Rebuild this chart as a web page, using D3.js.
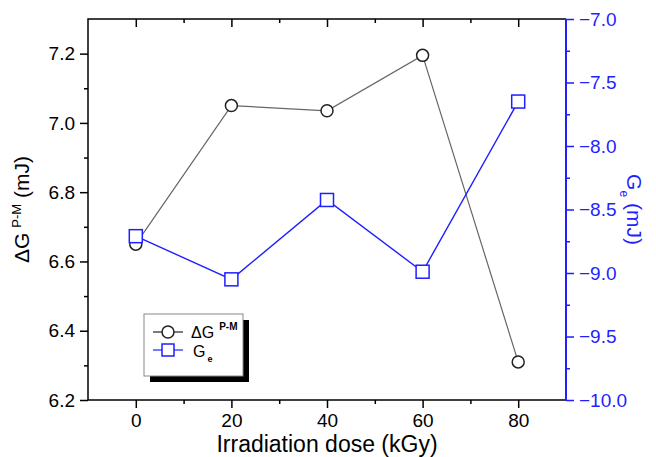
<!DOCTYPE html>
<html>
<head>
<meta charset="utf-8">
<script src="https://cdn.jsdelivr.net/npm/d3@7"></script>
<style>
  body { margin: 0; background: #fff; }
  text { font-family: "Liberation Sans", Arial, sans-serif; }
</style>
</head>
<body>
<div id="chart"></div>
<script>
const doses = [0, 20, 40, 60, 80];
const deltaG = [6.65, 7.05, 7.035, 7.195, 6.31];
const ge = [-8.71, -9.05, -8.425, -8.99, -7.65];
const leftTicks = [6.2, 6.4, 6.6, 6.8, 7.0, 7.2];
const rightTicks = [-10.0, -9.5, -9.0, -8.5, -8.0, -7.5, -7.0];
const xTicks = [0, 20, 40, 60, 80];

const blue = "#1f1fff";
const W = 656, H = 457;
const L = 88, R = 566, T = 19, B = 400;

const svg = d3.select("#chart").append("svg")
  .attr("width", W)
  .attr("height", H);

const x = d3.scaleLinear().domain([-10, 90]).range([L, R]);
const yL = d3.scaleLinear().domain([6.2, 7.3]).range([B, T]);
const yR = d3.scaleLinear().domain([-10, -7]).range([B, T]);

function styleAxis(g, color, size) {
  g.select(".domain").remove();
  g.selectAll("line").attr("stroke", color).attr("stroke-width", 1.5);
  g.selectAll("text").attr("fill", color).style("font-size", size + "px");
}

// minor ticks
const xMinor = d3.range(10, 90, 20);
const lMinor = d3.range(6.3, 7.3, 0.2);
const rMinor = d3.range(-9.75, -7, 0.5);

const gx = svg.append("g").attr("transform", `translate(0,${B})`)
  .call(d3.axisBottom(x).tickValues(xTicks).tickSize(8).tickPadding(6).tickFormat(d3.format("d")));
styleAxis(gx, "#000", 19);
svg.append("g").attr("transform", `translate(0,${B})`)
  .call(d3.axisBottom(x).tickValues(xMinor).tickSize(4).tickFormat(""))
  .call(g => styleAxis(g, "#000", 0));

const gxt = svg.append("g").attr("transform", `translate(0,${T})`)
  .call(d3.axisBottom(x).tickValues(xTicks).tickSize(8).tickFormat(""));
styleAxis(gxt, "#000", 0);
svg.append("g").attr("transform", `translate(0,${T})`)
  .call(d3.axisBottom(x).tickValues(xMinor).tickSize(4).tickFormat(""))
  .call(g => styleAxis(g, "#000", 0));

const gl = svg.append("g").attr("transform", `translate(${L},0)`)
  .call(d3.axisLeft(yL).tickValues(leftTicks).tickSize(8).tickPadding(5).tickFormat(d3.format(".1f")));
styleAxis(gl, "#000", 19);
svg.append("g").attr("transform", `translate(${L},0)`)
  .call(d3.axisLeft(yL).tickValues(lMinor).tickSize(4).tickFormat(""))
  .call(g => styleAxis(g, "#000", 0));

const gr = svg.append("g").attr("transform", `translate(${R},0)`)
  .call(d3.axisRight(yR).tickValues(rightTicks).tickSize(8).tickPadding(5).tickFormat(d3.format(".1f")));
styleAxis(gr, blue, 19);
svg.append("g").attr("transform", `translate(${R},0)`)
  .call(d3.axisRight(yR).tickValues(rMinor).tickSize(4).tickFormat(""))
  .call(g => styleAxis(g, blue, 0));

// frame
svg.append("path")
  .attr("d", `M${R},${T}H${L}V${B}H${R}`)
  .attr("fill", "none").attr("stroke", "#000").attr("stroke-width", 1.5);
svg.append("line")
  .attr("x1", R).attr("x2", R).attr("y1", T).attr("y2", B)
  .attr("stroke", blue).attr("stroke-width", 2);

// axis titles
svg.append("text")
  .attr("x", 327).attr("y", 452)
  .attr("text-anchor", "middle")
  .style("font-size", "23px")
  .text("Irradiation dose (kGy)");

const lt = svg.append("text")
  .attr("transform", `translate(29,${(T + B) / 2}) rotate(-90)`)
  .attr("text-anchor", "middle")
  .style("font-size", "21px");
lt.append("tspan").text("ΔG");
lt.append("tspan").attr("dy", -8).attr("dx", 5).style("font-size", "13px").text("P-M");
lt.append("tspan").attr("dy", 8).text(" (mJ)");

const rt = svg.append("text")
  .attr("transform", `translate(627,${(T + B) / 2}) rotate(90)`)
  .attr("text-anchor", "middle")
  .attr("fill", blue)
  .style("font-size", "21px");
rt.append("tspan").text("G");
rt.append("tspan").attr("dy", 7).style("font-size", "12px").text("e");
rt.append("tspan").attr("dy", -7).text(" (mJ)");

// series
const dgPts = doses.map((d, i) => [x(d), yL(deltaG[i])]);
const gePts = doses.map((d, i) => [x(d), yR(ge[i])]);

svg.append("path")
  .attr("d", d3.line()(dgPts))
  .attr("fill", "none").attr("stroke", "#666").attr("stroke-width", 1.2);
svg.selectAll(".dg").data(dgPts).enter().append("circle")
  .attr("cx", d => d[0]).attr("cy", d => d[1]).attr("r", 6)
  .attr("fill", "#fff").attr("stroke", "#222").attr("stroke-width", 1.5);

svg.append("path")
  .attr("d", d3.line()(gePts))
  .attr("fill", "none").attr("stroke", blue).attr("stroke-width", 1.4);
svg.selectAll(".ge").data(gePts).enter().append("rect")
  .attr("x", d => d[0] - 6.5).attr("y", d => d[1] - 6.5)
  .attr("width", 13).attr("height", 13)
  .attr("fill", "#fff").attr("stroke", blue).attr("stroke-width", 1.5);

// legend
const lg = svg.append("g").attr("transform", "translate(144,314)");
lg.append("rect").attr("x", 6).attr("y", 6).attr("width", 99).attr("height", 62).attr("fill", "#000");
lg.append("rect").attr("width", 99).attr("height", 62)
  .attr("fill", "#fff").attr("stroke", "#888").attr("stroke-width", 1);

lg.append("line").attr("x1", 9).attr("x2", 39).attr("y1", 18).attr("y2", 18)
  .attr("stroke", "#222").attr("stroke-width", 1.2);
lg.append("circle").attr("cx", 24).attr("cy", 18).attr("r", 6)
  .attr("fill", "#fff").attr("stroke", "#222").attr("stroke-width", 1.5);
const t1 = lg.append("text").attr("x", 47).attr("y", 24).style("font-size", "16px");
t1.append("tspan").text("ΔG");
t1.append("tspan").attr("dy", -8).attr("dx", 5).style("font-size", "10px").style("font-weight", "bold").text("P-M");

lg.append("line").attr("x1", 9).attr("x2", 39).attr("y1", 36).attr("y2", 36)
  .attr("stroke", blue).attr("stroke-width", 1.2);
lg.append("rect").attr("x", 18).attr("y", 30).attr("width", 12).attr("height", 12)
  .attr("fill", "#fff").attr("stroke", blue).attr("stroke-width", 1.5);
const t2 = lg.append("text").attr("x", 49).attr("y", 43).style("font-size", "16px");
t2.append("tspan").text("G");
t2.append("tspan").attr("dy", 5).attr("dx", 2).style("font-size", "9px").style("font-weight", "bold").text("e");
</script>
</body>
</html>
